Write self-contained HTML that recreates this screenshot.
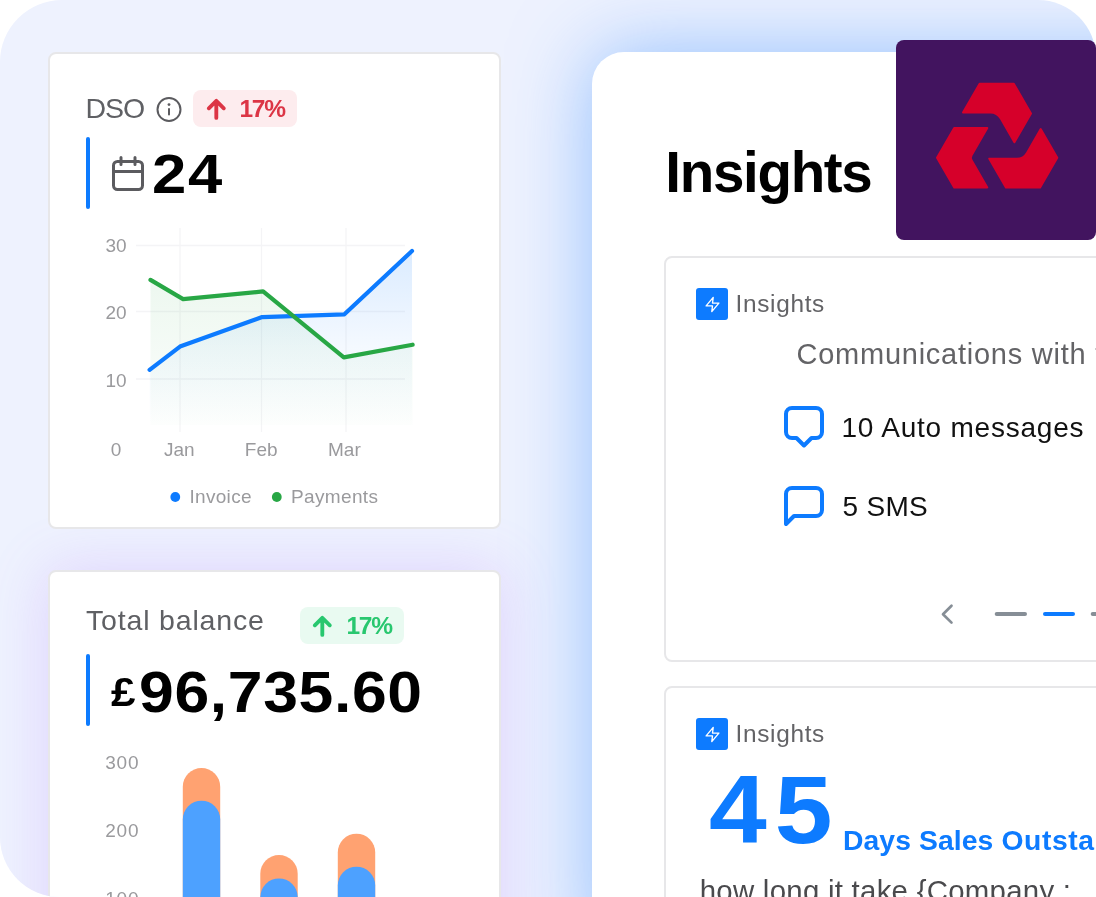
<!DOCTYPE html>
<html lang="en">
<head>
<meta charset="utf-8">
<title>Insights dashboard</title>
<style>
*{box-sizing:border-box;margin:0;padding:0}
html,body{width:1096px;height:897px;overflow:hidden;background:#fff}
body{font-family:"Liberation Sans",sans-serif;position:relative}
#stage{position:absolute;left:0;top:0;width:1096px;height:897px;background:#eef2fe;border-radius:62px 58px 0 60px;overflow:hidden}
.abs{position:absolute}
.card{position:absolute;background:#fff;border:2px solid #e7e7e9;border-radius:8px}
.t{position:absolute;white-space:nowrap;line-height:1}
#card1{left:48px;top:52px;width:453px;height:476.5px}
#card2{left:48px;top:569.5px;width:453px;height:400px;box-shadow:0 0 58px 0 rgba(175,105,250,.23)}
#panel{left:592px;top:52px;width:600px;height:900px;background:#fff;border-radius:32px 0 0 0;box-shadow:0 0 80px 0 rgba(56,142,255,.5)}
.bar{position:absolute;width:4px;border-radius:2px;background:#0d7bff}
.badge{position:absolute;border-radius:8px}
</style>
</head>
<body>
<div id="stage">
  <div id="panel" class="abs"></div>
  <div id="card2" class="card"></div>
  <div id="card1" class="card"></div>

  <!-- DSO card -->
  <div class="t" id="dso" style="left:85.5px;top:93.6px;font-size:28.5px;color:#5f6064;letter-spacing:-1px">DSO</div>
  <svg class="abs" style="left:155px;top:95.5px" width="28" height="28" viewBox="0 0 28 28"><circle cx="14" cy="13.5" r="11.5" fill="none" stroke="#5b5b5f" stroke-width="2"/><rect x="13" y="12" width="2" height="7.5" rx="1" fill="#5b5b5f"/><circle cx="14" cy="8.6" r="1.4" fill="#5b5b5f"/></svg>
  <div class="badge" style="left:193px;top:90px;width:104px;height:37px;background:#fdecee"></div>
  <svg class="abs" style="left:203.8px;top:95.8px" width="25.7" height="25.7" viewBox="0 0 24 24"><path d="M11.5 20.5V5.5M4.5 11.5l7-7 7 7" fill="none" stroke="#dc3545" stroke-width="3.6" stroke-linecap="round" stroke-linejoin="round"/></svg>
  <div class="t" id="pct1" style="left:239.5px;top:96.5px;font-size:24.5px;font-weight:700;color:#dc3545;letter-spacing:-1.3px">17%</div>
  <div class="bar" style="left:86px;top:137px;height:72px"></div>
  <svg class="abs" style="left:110px;top:155px" width="36" height="38" viewBox="0 0 36 38"><rect x="3.5" y="6.5" width="29" height="28" rx="4" fill="none" stroke="#5b5b5f" stroke-width="3"/><path d="M3.5 16.5h29M11 2.5v7M25 2.5v7" fill="none" stroke="#5b5b5f" stroke-width="3" stroke-linecap="round"/></svg>
  <div class="t" id="n24" style="left:152px;top:147px;font-size:55.5px;font-weight:700;color:#000;letter-spacing:1.5px;transform:scaleX(1.11);transform-origin:0 0">24</div>

  <!-- line chart -->
  <svg class="abs" style="left:90px;top:220px" width="340" height="300" viewBox="90 220 340 300">
    <defs>
      <linearGradient id="gb" x1="0" y1="0" x2="0" y2="1"><stop offset="0" stop-color="#0d7bff" stop-opacity=".15"/><stop offset=".55" stop-color="#0d7bff" stop-opacity=".045"/><stop offset="1" stop-color="#0d7bff" stop-opacity="0"/></linearGradient>
      <linearGradient id="gg" x1="0" y1="0" x2="0" y2="1"><stop offset="0" stop-color="#28a745" stop-opacity=".085"/><stop offset="1" stop-color="#28a745" stop-opacity=".01"/></linearGradient>
    </defs>
    <g stroke="#f4f4f6" stroke-width="1.3">
      <path d="M136 245.5H405M136 311.5H405M136 379H405M180 228V432M261.5 228V432M346 228V432"/>
    </g>
    <path d="M149.6 369.8L180 346.6L262.2 317.1L344.4 314.3L412 251V425H149.6Z" fill="url(#gb)"/>
    <path d="M150.5 279.9L183.1 299.1L263.1 291.4L343.8 357.4L412.6 344.7V425H150.5Z" fill="url(#gg)"/>
    <path d="M149.6 369.8L180 346.6L262.2 317.1L344.4 314.3L412 251" fill="none" stroke="#0d7bff" stroke-width="4.2" stroke-linecap="round" stroke-linejoin="round"/>
    <path d="M150.5 279.9L183.1 299.1L263.1 291.4L343.8 357.4L412.6 344.7" fill="none" stroke="#28a745" stroke-width="4.2" stroke-linecap="round" stroke-linejoin="round"/>
    <g font-family="Liberation Sans, sans-serif" font-size="19" fill="#9a9a9d">
      <text x="116" y="252.3" text-anchor="middle">30</text>
      <text x="116" y="318.7" text-anchor="middle">20</text>
      <text x="116" y="386.5" text-anchor="middle">10</text>
      <text x="116" y="455.7" text-anchor="middle">0</text>
      <text x="179.3" y="455.7" text-anchor="middle">Jan</text>
      <text x="261.2" y="455.7" text-anchor="middle">Feb</text>
      <text x="344.4" y="455.7" text-anchor="middle">Mar</text>
      <text x="189.5" y="502.7" letter-spacing=".3">Invoice</text>
      <text x="291" y="502.7" letter-spacing=".35">Payments</text>
    </g>
    <circle cx="175.3" cy="497" r="4.9" fill="#0d7bff"/>
    <circle cx="276.8" cy="497" r="4.9" fill="#28a745"/>
  </svg>

  <!-- Total balance card -->
  <div class="t" id="tb" style="left:86px;top:606px;font-size:28.5px;color:#5f6064;letter-spacing:.83px">Total balance</div>
  <div class="badge" style="left:300px;top:607px;width:104px;height:37px;background:#e9faf1"></div>
  <svg class="abs" style="left:310.3px;top:612.8px" width="25.7" height="25.7" viewBox="0 0 24 24"><path d="M11.5 20.5V5.5M4.5 11.5l7-7 7 7" fill="none" stroke="#28c76f" stroke-width="3.6" stroke-linecap="round" stroke-linejoin="round"/></svg>
  <div class="t" id="pct2" style="left:346.5px;top:613.5px;font-size:24.5px;font-weight:700;color:#28c76f;letter-spacing:-1.3px">17%</div>
  <div class="bar" style="left:86px;top:654px;height:72px"></div>
  <div class="t" id="gbp" style="left:110.5px;top:672px;font-size:40px;font-weight:700;color:#000;transform:scaleX(1.1);transform-origin:0 0">£</div>
  <div class="t" id="amt" style="left:139px;top:663.5px;font-size:57.5px;font-weight:700;color:#000;letter-spacing:.6px;transform:scaleX(1.086);transform-origin:0 0">96,735.60</div>
  <svg class="abs" style="left:90px;top:740px" width="320" height="157" viewBox="90 740 320 157">
    <g font-family="Liberation Sans, sans-serif" font-size="19" fill="#9a9a9d">
      <text x="122.300" y="769.3" text-anchor="middle" letter-spacing=".8">300</text>
      <text x="122.300" y="837.3" text-anchor="middle" letter-spacing=".8">200</text>
      <text x="122.300" y="905.3" text-anchor="middle" letter-spacing=".8">100</text>
    </g>
    <rect x="182.8" y="768" width="37.4" height="200" rx="18.7" fill="#ffa271"/>
    <rect x="182.8" y="800.7" width="37.4" height="200" rx="18.7" fill="#4da1ff"/>
    <rect x="260.3" y="855" width="37.4" height="200" rx="18.7" fill="#ffa271"/>
    <rect x="260.3" y="878.4" width="37.4" height="200" rx="18.7" fill="#4da1ff"/>
    <rect x="337.8" y="833.7" width="37.4" height="200" rx="18.7" fill="#ffa271"/>
    <rect x="337.8" y="866.7" width="37.4" height="200" rx="18.7" fill="#4da1ff"/>
  </svg>

  <!-- Right panel content -->
  <div class="t" id="h1" style="left:665.3px;top:145.2px;font-size:56.5px;font-weight:700;color:#000;letter-spacing:-1.3px">Insights</div>
  <div class="card" style="left:664px;top:256px;width:500px;height:406px"></div>
  <div class="card" style="left:664px;top:686px;width:500px;height:400px"></div>

  <div class="abs" style="left:696px;top:288px;width:32px;height:32px;background:#0d7bff;border-radius:3px"></div>
  <svg class="abs" style="left:703.5px;top:295.5px" width="17" height="17" viewBox="0 0 24 24"><polygon points="13 2 3 14 12 14 11 22 21 10 12 10 13 2" fill="none" stroke="#fff" stroke-width="1.9" stroke-linejoin="round"/></svg>
  <div class="t" id="ins1" style="left:735.5px;top:291.5px;font-size:24.4px;color:#636366;letter-spacing:.68px">Insights</div>
  <div class="t" id="comm" style="left:796.5px;top:340px;font-size:29px;color:#636366;letter-spacing:.75px">Communications with the customer</div>
  <svg class="abs" style="left:780px;top:400px" width="50" height="130" viewBox="780 400 50 130">
    <g fill="none" stroke="#0d7bff" stroke-width="4" stroke-linejoin="round" stroke-linecap="round">
      <path d="M792 408H816a6 6 0 0 1 6 6V432a6 6 0 0 1-6 6H811.5L804 445.5L796.5 438H792a6 6 0 0 1-6-6V414a6 6 0 0 1 6-6Z"/>
      <path d="M786 524V494a6 6 0 0 1 6-6H816a6 6 0 0 1 6 6V510a6 6 0 0 1-6 6H794Z"/>
    </g>
  </svg>
  <div class="t" id="auto" style="left:841.5px;top:413.6px;font-size:28px;color:#111;letter-spacing:.78px">10 Auto messages</div>
  <div class="t" id="sms" style="left:842.5px;top:493.2px;font-size:28px;color:#111;letter-spacing:.3px">5 SMS</div>

  <svg class="abs" style="left:930px;top:596px" width="170" height="36" viewBox="930 596 170 36">
    <path d="M951.5 605.8L943 614.2L951.5 622.6" fill="none" stroke="#868e96" stroke-width="2.7" stroke-linecap="round" stroke-linejoin="round"/>
    <g stroke-width="4" stroke-linecap="round">
      <path d="M996.7 614H1025" stroke="#868e96"/>
      <path d="M1045 614H1073" stroke="#0d7bff"/>
      <path d="M1092.7 614H1120" stroke="#868e96"/>
    </g>
  </svg>

  <div class="abs" style="left:696px;top:718px;width:32px;height:32px;background:#0d7bff;border-radius:3px"></div>
  <svg class="abs" style="left:703.5px;top:725.5px" width="17" height="17" viewBox="0 0 24 24"><polygon points="13 2 3 14 12 14 11 22 21 10 12 10 13 2" fill="none" stroke="#fff" stroke-width="1.9" stroke-linejoin="round"/></svg>
  <div class="t" id="ins2" style="left:735.5px;top:721.5px;font-size:24.4px;color:#636366;letter-spacing:.68px">Insights</div>
  <div class="t" id="n45" style="left:709.3px;top:760.6px;font-size:97px;font-weight:700;color:#0d7bff;letter-spacing:7.6px;transform:scaleX(1.07);transform-origin:0 0">45</div>
  <div class="t" id="days" style="left:843px;top:826.3px;font-size:28.3px;font-weight:700;color:#0d7bff;letter-spacing:.1px">Days Sales <span style="letter-spacing:.6px">Outstanding</span></div>
  <div class="t" id="how" style="left:699.7px;top:876px;font-size:29.4px;color:#4a4a4d;letter-spacing:.27px">how long it take {Company :</div>
</div>
  <div class="abs" style="left:896px;top:40px;width:200px;height:200px;background:#42145f;border-radius:8px"></div>
  <svg class="abs" style="left:896px;top:40px" width="200" height="200" viewBox="896 40 200 200">
    <g fill="#d6002a" stroke="#d6002a" stroke-width="2" stroke-linejoin="round">
      <path d="M1014.4 142.2L1000.8 118.6Q997.3 112.5 990.3 112.5L963.0 112.5L979.6 83.8L1013.8 83.8L1031.0 113.5Z"/>
      <path d="M987.3 128.0L971.6 155.2Q970.1 157.8 971.6 160.3L987.3 187.5L954.2 187.5L937.0 157.8L954.2 128.0Z"/>
      <path d="M989.3 158.7L1016.6 158.7Q1023.6 158.8 1027.1 152.7L1040.7 129.0L1057.3 157.7L1040.1 187.5L1005.9 187.5Z"/>
    </g>
  </svg>
</body>
</html>
